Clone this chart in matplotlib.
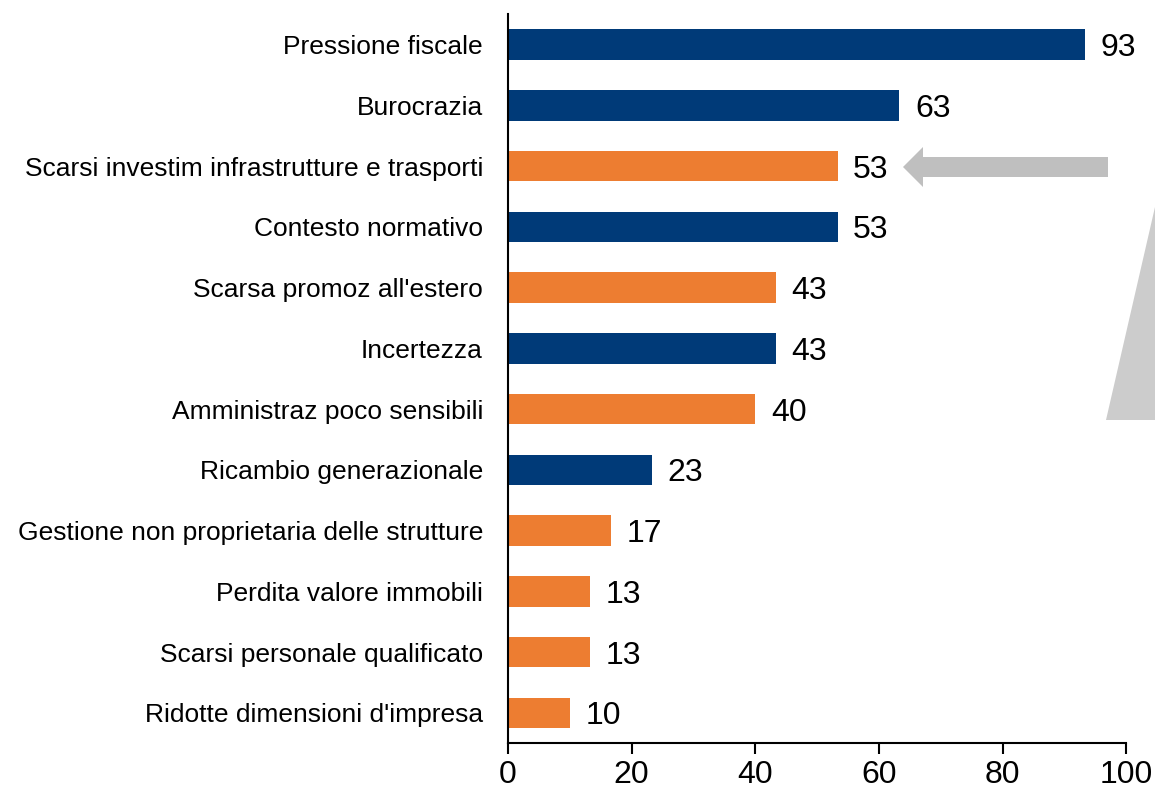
import matplotlib
matplotlib.use('Agg')
from matplotlib import pyplot as plt
from matplotlib.patches import Polygon, FancyArrow

plt.rcParams['font.family'] = ['Liberation Sans', 'DejaVu Sans']

categories = [
    'Pressione fiscale',
    'Burocrazia',
    'Scarsi investim infrastrutture e trasporti',
    'Contesto normativo',
    "Scarsa promoz all'estero",
    'Incertezza',
    'Amministraz poco sensibili',
    'Ricambio generazionale',
    'Gestione non proprietaria delle strutture',
    'Perdita valore immobili',
    'Scarsi personale qualificato',
    "Ridotte dimensioni d'impresa",
]
values = [93.3, 63.3, 53.3, 53.3, 43.3, 43.3, 40.0, 23.3, 16.7, 13.3, 13.3, 10.0]
groups = ['b', 'b', 'o', 'b', 'o', 'b', 'o', 'b', 'o', 'o', 'o', 'o']
xticks = [0, 20, 40, 60, 80, 100]

col = {'b': '#003A78', 'o': '#ED7D31'}

fig = plt.figure(figsize=(11.55, 7.94), dpi=100)
ax = fig.add_axes([0.4398, 0.064, 0.5355, 0.918])

pos = list(range(len(categories)))
ax.barh(pos, values, height=0.5, color=[col[g] for g in groups])
for p, v in zip(pos, values):
    ax.text(v + 2.5, p, '%d' % round(v), va='center_baseline', ha='left', fontsize=23, color='black')

ax.set_ylim(11.5, -0.5)
ax.set_xlim(0, 100)
ax.set_yticks(pos)
ax.set_yticklabels(categories, fontsize=19)
ax.tick_params(axis='y', length=0, pad=18)
ax.set_xticks(xticks)
ax.set_xticklabels([str(t) for t in xticks], fontsize=23)
ax.tick_params(axis='x', length=8, width=1.5, direction='out', pad=4)

for s in ['top', 'right']:
    ax.spines[s].set_visible(False)
for s in ['left', 'bottom']:
    ax.spines[s].set_linewidth(1.5)

# grey arrow pointing at the infrastructure bar
W, H = 1155.0, 794.0
arr = FancyArrow(1108 / W, 1 - 167 / H, -205 / W, 0, width=20 / H, head_width=40 / H,
                 head_length=20 / W, length_includes_head=True, transform=fig.transFigure,
                 color='#BFBFBF', lw=0)
fig.patches.append(arr)

tri = Polygon([(1155 / W, 1 - 207 / H), (1106 / W, 1 - 420 / H), (1155 / W, 1 - 420 / H)],
              closed=True, transform=fig.transFigure, color='#CCCCCC', lw=0)
fig.patches.append(tri)

plt.savefig('out.png', dpi=100)
